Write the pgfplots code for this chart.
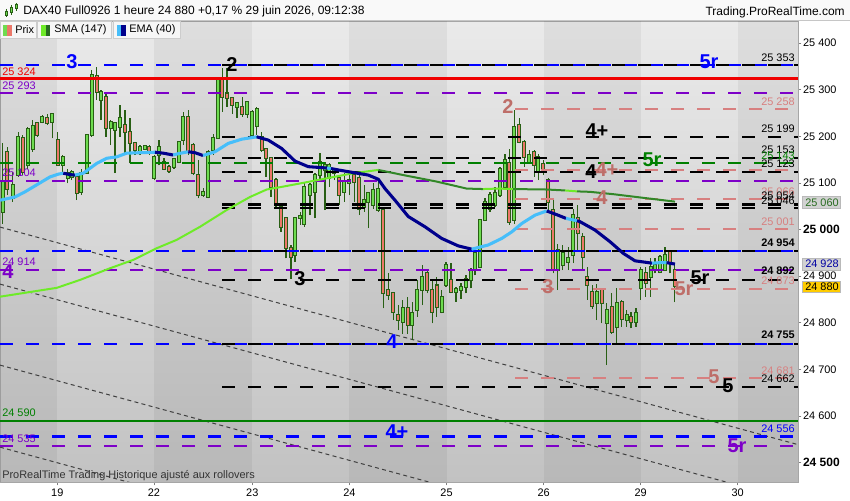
\documentclass[border=0pt]{standalone}
\usepackage{pgfplots}
\pgfplotsset{compat=1.18}
\usepackage{pgfplotstable}
\usepackage{fontspec}
\setmainfont{Liberation Sans}

\definecolor{lvblue}{RGB}{0,0,255}
\definecolor{lvpurple}{RGB}{125,0,200}
\definecolor{lvred}{RGB}{240,0,0}
\definecolor{lvgreen}{RGB}{0,128,0}
\definecolor{lvsalmon}{RGB}{215,128,128}
\definecolor{lbsalmon}{RGB}{190,110,105}
\definecolor{wick}{RGB}{40,95,20}
\definecolor{upfill}{RGB}{110,220,80}
\definecolor{dnfill}{RGB}{235,120,105}
\definecolor{emalight}{RGB}{70,190,250}
\definecolor{emadark}{RGB}{0,0,140}
\definecolor{smalight}{RGB}{110,235,40}
\definecolor{smadark}{RGB}{50,135,40}
\definecolor{bgtop}{RGB}{234,234,234}
\definecolor{bgbot}{RGB}{194,194,194}

% hourly candles, x in pixels of the chart, prices
\pgfplotstableread{
x o h l c
2.7 25038 25185 25013 25103
7.3 25167 25178 25074 25088
12.7 25067 25124 25060 25096
18.3 25117 25210 25113 25199
22.7 25196 25203 25117 25124
27.7 25138 25221 25131 25216
32.7 25174 25235 25167 25223
37.3 25228 25231 25199 25203
42.3 25231 25246 25228 25242
47.3 25239 25249 25224 25228
52.3 25231 25249 25196 25247
57.7 25192 25210 25138 25138
62.7 25138 25160 25117 25156
67.7 25110 25131 25099 25121
71.7 25113 25128 25106 25124
76.7 25113 25117 25063 25078
81.3 25081 25131 25074 25121
86.7 25121 25206 25121 25203
91.7 25203 25342 25199 25332
96.7 25330 25349 25278 25296
101 25278 25299 25235 25296
106 25285 25296 25199 25217
110.7 25219 25235 25181 25231
115 25214 25231 25121 25228
120 25221 25267 25199 25239
125 25224 25256 25163 25210
130 25210 25239 25142 25185
135 25185 25185 25160 25171
140 25167 25181 25160 25178
145 25173 25181 25171 25180
149.3 25178 25181 25160 25167
154.3 25110 25160 25106 25156
159 25160 25192 25138 25178
164 25146 25153 25128 25131
169 25135 25138 25121 25126
174 25135 25153 25131 25151
179 25146 25189 25142 25187
183.3 25192 25253 25181 25242
188.3 25242 25256 25160 25167
193.3 25181 25185 25117 25121
198.3 25117 25149 25067 25074
203.3 25075 25089 25070 25081
208.3 25070 25171 25067 25167
213.3 25171 25205 25160 25196
218.3 25196 25328 25196 25324
222.3 25324 25346 25253 25285
227 25292 25346 25264 25282
232.3 25283 25285 25249 25267
237 25264 25272 25239 25271
242.3 25264 25285 25242 25249
247.3 25249 25274 25239 25274
252.3 25203 25256 25199 25253
256.7 25222 25264 25203 25258
261.7 25199 25210 25167 25171
266 25173 25174 25113 25153
271 25153 25156 25070 25092
276 25106 25110 25049 25053
281 25049 25053 24995 25006
286 25024 25028 24938 24960
291 24961 24967 24895 24942
295 24945 25028 24931 25024
300.3 25024 25038 25010 25030
304.3 25013 25103 25006 25092
310 25074 25099 25031 25096
315 25081 25121 25024 25117
320 25117 25164 25103 25146
325 25128 25146 25042 25138
329.3 25110 25142 25092 25138
334.3 25121 25131 25106 25131
339.3 25110 25113 25053 25074
344.3 25081 25121 25060 25105
349.3 25099 25117 25074 25107
354.3 25117 25121 25060 25103
359.3 25110 25117 25031 25045
364.3 25049 25095 25038 25063
368.3 25060 25081 25003 25078
373.3 25053 25099 25045 25085
378.3 25042 25103 25038 25088
383.3 25042 25045 24831 24863
388.3 24870 24906 24849 24860
393.3 24863 24867 24806 24824
398.3 24816 24838 24784 24806
402.7 24802 24849 24777 24831
407.7 24831 24856 24777 24795
412.3 24795 24845 24763 24820
417.3 24827 24892 24813 24870
422.3 24870 24924 24838 24899
427.3 24906 24913 24863 24870
432.3 24870 24892 24799 24824
436.7 24880 24899 24813 24834
441.7 24824 24870 24820 24856
446 24881 24931 24877 24924
451 24892 24928 24863 24867
456 24866 24877 24845 24873
461 24870 24885 24852 24877
466 24877 24902 24863 24895
471 24892 24917 24874 24913
475 24913 24953 24902 24949
480 24920 25020 24920 25020
485 25020 25067 25020 25060
490 25045 25081 25038 25074
495 25053 25092 25049 25078
500 25074 25135 25070 25131
505 25092 25163 25085 25149
509.3 25142 25174 25010 25017
514.3 25020 25256 25013 25221
519.3 25224 25239 25185 25188
524.3 25188 25192 25135 25156
529.3 25146 25171 25142 25160
534.3 25167 25171 25113 25138
538.3 25124 25163 25106 25156
543.3 25140 25149 25117 25131
548.3 25106 25110 25042 25060
553.3 25042 25063 24906 24913
557.7 24913 24970 24870 24956
562.7 24924 24967 24913 24949
568.3 24931 24963 24913 24938
573.3 24945 25045 24928 25031
577.7 25024 25053 24956 24992
582.7 24985 24992 24913 24942
587.3 24899 24920 24849 24881
592.3 24866 24881 24830 24837
596.7 24842 24884 24806 24867
601.7 24870 24874 24799 24842
606.7 24799 24842 24709 24827
611.7 24834 24863 24777 24781
616.7 24792 24874 24756 24842
621.7 24845 24849 24792 24809
626.7 24806 24827 24792 24816
631 24813 24824 24788 24802
636 24802 24831 24792 24820
640.7 24874 24920 24849 24913
645.7 24906 24920 24856 24885
650.7 24899 24938 24856 24920
655 24913 24938 24906 24924
660 24910 24945 24906 24942
665 24913 24963 24913 24945
670 24953 24956 24906 24928
674.5 24913 24928 24844 24880
}\candles

\pgfplotsset{
  lv/.style={line width=1.7pt, dash pattern=on 9.75pt off 9.75pt},
  tl/.style={black!75, line width=0.75pt, dash pattern=on 3pt off 2.5pt},
  bars/.style={draw=none, mark=none,
    error bars/y dir=both, error bars/y explicit, error bars/error mark=none},
}

\newcommand{\sm}{\fontsize{8.2}{9}\selectfont}
\newcommand{\wavefont}{\fontsize{15}{16}\selectfont\bfseries}

\begin{document}
\begin{tikzpicture}
\useasboundingbox (0pt,0pt) rectangle (637.5pt,375pt);
\fill[white] (0pt,0pt) rectangle (637.5pt,375pt);
\begin{axis}[
  at={(0pt,13.5pt)}, anchor=south west,
  scale only axis, width=598.5pt, height=345.75pt,
  xmin=0, xmax=798, ymin=24458.4, ymax=25447.6,
  axis background/.style={shade, top color=bgtop, bottom color=bgbot},
  axis line style={draw=gray!70, line width=0.5pt},
  xtick={57.3,154,252.3,349.4,446.5,543.6,640.7,737.7},
  xticklabels={19,22,23,24,25,26,29,30},
  ytick={24500,24600,24700,24800,24900,25000,25100,25200,25300,25400},
  yticklabels={{\fontsize{9}{10}\selectfont\bfseries 24 500},24 600,24 700,24 800,24 900,
    {\fontsize{9}{10}\selectfont\bfseries 25 000},25 100,25 200,25 300,25 400},
  xtick pos=left, ytick pos=right, yticklabel pos=right,
  tick align=outside, major tick length=2.6pt,
  tick style={gray, line width=0.6pt},
  ticklabel style={font=\sm, inner sep=0pt},
  xticklabel style={yshift=-2.2pt},
  yticklabel style={anchor=west, xshift=1pt},
]
% alternating day bands
\fill[black, opacity=0.05] (axis cs:0,24458.4) rectangle (axis cs:57.3,25447.6);
\fill[black, opacity=0.05] (axis cs:154,24458.4) rectangle (axis cs:252.3,25447.6);
\fill[black, opacity=0.05] (axis cs:349.4,24458.4) rectangle (axis cs:446.5,25447.6);
\fill[black, opacity=0.05] (axis cs:543.6,24458.4) rectangle (axis cs:640.7,25447.6);
\fill[black, opacity=0.05] (axis cs:737.7,24458.4) rectangle (axis cs:798,25447.6);

% trend lines
\addplot[tl] coordinates {(0,25005.4) (798,24538.6)};
\addplot[tl] coordinates {(0,24883.0) (798,24416.3)};
\addplot[tl] coordinates {(0,24709.2) (798,24242.5)};
\addplot[tl] coordinates {(0,24533.2) (798,24066.5)};

% candles: wicks, body outline, body fill
\addplot[bars, error bars/error bar style={line width=1.05pt, draw=wick}]
  table[x=x, y=l, y error plus expr=\thisrow{h}-\thisrow{l}, y error minus expr=0] {\candles};
\addplot[bars, error bars/error bar style={line width=2.8pt, draw=wick}]
  table[x=x, y expr={min(\thisrow{o},\thisrow{c})},
        y error plus expr={abs(\thisrow{c}-\thisrow{o})+2.2}, y error minus expr=2.2] {\candles};
\addplot[restrict expr to domain={\thisrow{c}-\thisrow{o}}{0:100000},
  bars, error bars/error bar style={line width=1.5pt, draw=upfill}]
  table[x=x, y=o, y error plus expr=\thisrow{c}-\thisrow{o}, y error minus expr=0] {\candles};
\addplot[restrict expr to domain={\thisrow{o}-\thisrow{c}}{0.5:100000},
  bars, error bars/error bar style={line width=1.5pt, draw=dnfill}]
  table[x=x, y=c, y error plus expr=\thisrow{o}-\thisrow{c}, y error minus expr=0] {\candles};

% support / resistance levels
\addplot[lv, lvblue] coordinates {(0,25353) (798,25353)};
\addplot[lv, black] coordinates {(222,25353) (798,25353)};
\addplot[lvred, line width=1.7pt] coordinates {(0,25324) (798,25324)};
\addplot[lv, lvpurple] coordinates {(0,25293) (798,25293)};
\addplot[lv, lvsalmon] coordinates {(515,25258) (798,25258)};
\addplot[lv, black] coordinates {(222,25199) (798,25199)};
\addplot[lv, black] coordinates {(222,25153) (798,25153)};
\addplot[lv, lvgreen] coordinates {(0,25143) (798,25143)};
\addplot[lv, lvsalmon] coordinates {(515,25128) (798,25128)};
\addplot[lv, black] coordinates {(222,25123) (798,25123)};
\addplot[lv, lvpurple] coordinates {(0,25104) (798,25104)};
\addplot[lv, lvsalmon] coordinates {(515,25066) (798,25066)};
\addplot[lv, black] coordinates {(222,25054) (798,25054)};
\addplot[lv, black] coordinates {(222,25046) (798,25046)};
\addplot[lv, lvsalmon] coordinates {(515,25001) (798,25001)};
\addplot[lv, lvblue] coordinates {(0,24954) (798,24954)};
\addplot[lv, black] coordinates {(222,24954) (798,24954)};
\addplot[lv, lvpurple] coordinates {(0,24914) (798,24914)};
\addplot[lv, black] coordinates {(222,24892) (798,24892)};
\addplot[lv, lvsalmon] coordinates {(515,24873) (798,24873)};
\addplot[lv, lvblue] coordinates {(0,24755) (798,24755)};
\addplot[lv, black] coordinates {(222,24755) (798,24755)};
\addplot[lv, lvsalmon] coordinates {(515,24681) (798,24681)};
\addplot[lv, black] coordinates {(222,24662) (798,24662)};
\addplot[lvgreen, line width=1.7pt] coordinates {(0,24590) (798,24590)};
\addplot[lv, lvblue] coordinates {(0,24556) (798,24556)};
\addplot[lv, lvpurple] coordinates {(0,24535) (798,24535)};

% SMA (147)
\addplot[smalight, line width=1.5pt, line join=round] coordinates {
  (0,24856) (56.7,24875) (80,24892) (110,24917) (133.3,24935) (156.7,24960)
  (176.7,24978) (200,25006) (226.7,25042) (250,25070) (266.7,25086) (280,25091)
  (300,25099) (326.7,25110) (353.3,25121) (378.3,25128)};
\addplot[smadark, line width=1.5pt, line join=round] coordinates {
  (378.3,25128) (403.3,25117) (436.7,25103) (466.7,25088) (483,25087)};
\addplot[smalight, line width=1.5pt] coordinates {(483,25087) (498,25088) (513,25087)};
\addplot[smadark, line width=1.5pt] coordinates {(513,25087) (546.7,25086) (565,25084)};
\addplot[smalight, line width=1.5pt] coordinates {(565,25084) (577,25082)};
\addplot[smadark, line width=1.5pt, line join=round] coordinates {
  (577,25082) (590,25081) (613.3,25076) (640,25069) (675,25060)};

% EMA (40)
\pgfplotsset{ema/.style={line width=2.3pt, line join=round}}
\addplot[ema, emalight] coordinates {
  (0,25063) (15,25070) (25,25081) (36.7,25096) (50,25113) (58.3,25119) (63.3,25121)};
\addplot[ema, emadark] coordinates {(63.3,25121) (70,25118) (75,25117)};
\addplot[ema, emalight] coordinates {
  (75,25117) (83.3,25121) (96.7,25142) (106.7,25153) (116.7,25156) (126.7,25164)
  (140,25165) (155,25166)};
\addplot[ema, emadark] coordinates {(155,25166) (163.3,25164) (173.3,25160)};
\addplot[ema, emalight] coordinates {(173.3,25160) (178.3,25163) (188.3,25167)};
\addplot[ema, emadark] coordinates {(188.3,25167) (195,25165) (203,25159)};
\addplot[ema, emalight] coordinates {
  (203,25159) (215,25167) (228.3,25185) (241.7,25194) (256.7,25199)};
\addplot[ema, emadark] coordinates {
  (256.7,25199) (268.3,25192) (281.7,25174) (295,25147) (308.3,25135)
  (321.7,25133) (327,25132)};
\addplot[ema, emalight] coordinates {(327,25132) (331,25131)};
\addplot[ema, emadark] coordinates {
  (331,25131) (338.3,25128) (351.7,25123) (368.3,25117) (378.3,25108) (385,25088)
  (395,25063) (408.3,25028) (425,25006) (441.7,24981) (458.3,24965) (471.7,24958)};
\addplot[ema, emalight] coordinates {
  (471.7,24958) (488.3,24967) (501.7,24981) (511.7,24995) (521.7,25013)
  (535,25031) (546.7,25040)};
\addplot[ema, emadark] coordinates {(546.7,25040) (558,25031) (566,25024)};
\addplot[ema, emalight] coordinates {(566,25024) (577,25019)};
\addplot[ema, emadark] coordinates {
  (577,25019) (580,25017) (595,24999) (610,24974) (623.3,24949) (635,24933) (652,24928)};
\addplot[ema, emalight] coordinates {(652,24928) (660,24929) (666.7,24929)};
\addplot[ema, emadark] coordinates {(666.7,24929) (675,24926)};
\end{axis}

\begin{scope}[x=0.75pt, y=-0.75pt, shift={(0pt,375pt)}]
% header
\fill[gray!5] (0,0) rectangle (850,20);
\draw[gray!45, line width=0.5pt] (0,20.5) -- (850,20.5);
\draw[wick, line width=0.6pt] (6,9) -- (6,17) (11,5) -- (11,15) (16,3) -- (16,11);
\fill[upfill, draw=wick, line width=0.4pt] (5,11) rectangle (7,15) (10,7) rectangle (12,12) (15,4) rectangle (17,8);
\node[anchor=west, inner sep=0pt, font=\fontsize{9}{10}\selectfont] at (23,11.5)
  {DAX40 Full0926 1 heure 24 880 +0,17 \% 29 juin 2026, 09:12:38};
\node[anchor=east, inner sep=0pt, font=\fontsize{9}{10}\selectfont] at (845,12.5)
  {Trading.ProRealTime.com};

% legend row
\foreach \a/\b in {0/36.7, 37.7/111.7, 113.3/180}
  \filldraw[fill=gray!7, draw=gray!40, line width=0.5pt] (\a,21.7) rectangle (\b,38.3);
\fill[upfill] (3,25) rectangle (7.3,36); \fill[dnfill] (7.3,25) rectangle (11.7,36);
\fill[smalight] (41,25) rectangle (45.5,36); \fill[smadark!80!black] (45.5,25) rectangle (50,36);
\fill[emalight] (116.7,25) rectangle (121.2,36); \fill[emadark] (121.2,25) rectangle (125.7,36);
\node[anchor=west, inner sep=0pt, font=\sm] at (15,30) {Prix};
\node[anchor=west, inner sep=0pt, font=\sm] at (54,30) {SMA (147)};
\node[anchor=west, inner sep=0pt, font=\sm] at (129,30) {EMA (40)};

% values at the right end of the levels
\tikzset{rv/.style={anchor=east, inner sep=0pt, font=\sm}}
\node[rv, black] at (795,58) {25 353};
\node[rv, lvsalmon] at (795,102) {25 258};
\node[rv, black] at (795,129) {25 199};
\node[rv, black] at (795,150) {25 153};
\node[rv, lvgreen] at (795,155.5) {25 143};
\node[rv, black] at (795,164) {25 123};
\node[rv, lvsalmon] at (795,192) {25 066};
\node[rv, black] at (795,196) {25 054};
\node[rv, black] at (795,201) {25 046};
\node[rv, lvsalmon] at (795,222) {25 001};
\node[rv, black, font=\sm\bfseries] at (795,243) {24 954};
\node[rv, black, font=\sm\bfseries] at (795,271) {24 892};
\node[rv, lvsalmon] at (795,281) {24 873};
\node[rv, black, font=\sm\bfseries] at (795,335) {24 755};
\node[rv, lvsalmon] at (795,371) {24 681};
\node[rv, black] at (795,379) {24 662};
\node[rv, lvblue] at (795,429) {24 556};

% values at the left
\tikzset{lvv/.style={anchor=west, inner sep=0pt, font=\sm}}
\node[lvv, lvred] at (2,71.5) {25 324};
\node[lvv, lvpurple] at (2,86) {25 293};
\node[lvv, lvpurple] at (2,173) {25 104};
\node[lvv, lvpurple] at (2,262) {24 914};
\node[lvv, lvgreen] at (2,412.5) {24 590};
\node[lvv, lvpurple] at (2,439) {24 535};

% wave labels
\tikzset{wl/.style={inner sep=0pt, font=\wavefont}}
\node[wl, lvblue] at (72,62) {3};
\node[wl, black] at (232,65) {2};
\node[wl, lvblue] at (709,62) {5r};
\node[wl, lbsalmon] at (508,107) {2};
\node[wl, black] at (597,131) {4+};
\node[wl, lvgreen] at (652,160) {5r};
\node[wl, black] at (591,172) {4};
\node[wl, lbsalmon] at (607,170) {4+};
\node[wl, lbsalmon] at (602,198) {4};
\node[wl, lvpurple] at (8,272) {4};
\node[wl, black] at (300,279) {3};
\node[wl, lbsalmon] at (548,287) {3};
\node[wl, black] at (700,278) {5r};
\node[wl, lbsalmon] at (684,289) {5r};
\node[wl, lvblue] at (392,342) {4};
\node[wl, lbsalmon] at (714,377) {5};
\node[wl, black] at (728,386) {5};
\node[wl, lvblue] at (397,432) {4+};
\node[wl, lvpurple] at (737,446) {5r};

% footer note
\node[anchor=west, inner sep=0pt, font=\sm, black!80] at (2,476) {ProRealTime Trading  Historique ajusté aux rollovers};

% current values on the price scale
\filldraw[fill=gray!35, draw=gray!55, line width=0.5pt] (802.7,196.7) rectangle (840,208.3);
\node[anchor=west, inner sep=0pt, font=\sm, smadark!80!black] at (805,202.5) {25 060};
\filldraw[fill=gray!35, draw=gray!55, line width=0.5pt] (802.7,258.3) rectangle (840,270);
\node[anchor=west, inner sep=0pt, font=\sm, emadark!80!blue] at (805,264) {24 928};
\filldraw[fill={rgb,255:red,255;green,204;blue,0}, draw=gray!55, line width=0.5pt] (802.7,281) rectangle (840,292.7);
\node[anchor=west, inner sep=0pt, font=\sm, black] at (805,287) {24 880};
\end{scope}
\end{tikzpicture}
\end{document}
